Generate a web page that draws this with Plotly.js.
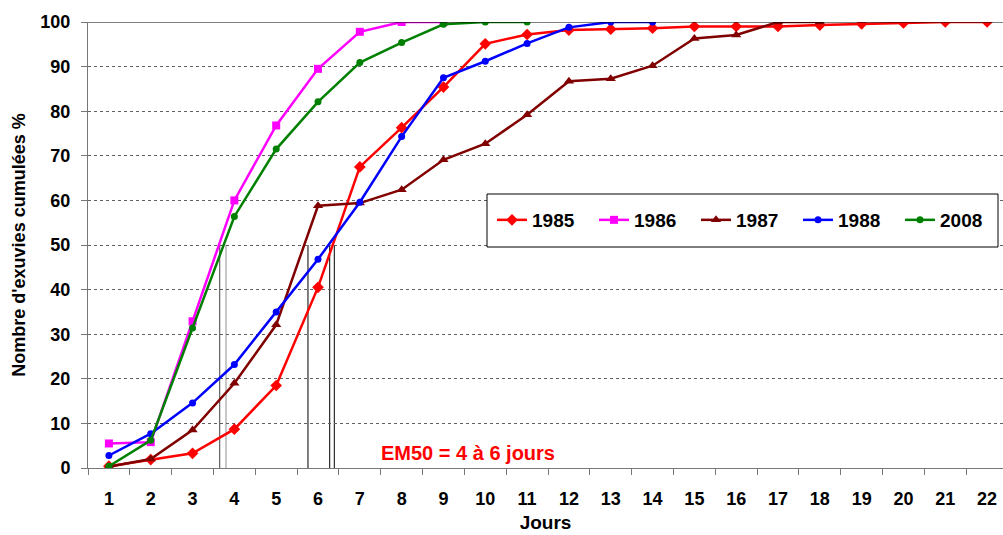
<!DOCTYPE html>
<html>
<head>
<meta charset="utf-8">
<script src="https://cdn.plot.ly/plotly-3.0.1.min.js"></script>
<style>html,body{margin:0;padding:0;background:#fff;}#chart{width:1003px;height:535px;}</style>
</head>
<body>
<div id="chart"></div>
<script>
// Days (Jours)
const days = [1,2,3,4,5,6,7,8,9,10,11,12,13,14,15,16,17,18,19,20,21,22];
// Cumulative exuviae (%) per year
const y1985 = [0.4, 1.9, 3.3, 8.7, 18.5, 40.5, 67.5, 76.3, 85.4, 95.1, 97.2, 98.2, 98.4, 98.6, 99.0, 99.0, 99.0, 99.3, 99.6, 99.8, 100, 100];
const y1986 = [5.5, 5.8, 32.9, 60.0, 76.8, 89.5, 97.8, 100, 100];
const y1987 = [0.3, 2.0, 8.5, 19.0, 32.1, 58.8, 59.4, 62.4, 69.1, 72.7, 79.2, 86.7, 87.3, 90.2, 96.3, 97.1, 100, 100];
const y1988 = [2.8, 7.7, 14.6, 23.2, 35.0, 46.8, 59.6, 74.3, 87.5, 91.2, 95.2, 98.8, 100, 100];
const y2008 = [0.4, 6.2, 31.4, 56.4, 71.5, 82.1, 90.9, 95.4, 99.5, 100, 100];
const seriesNames = ['1985', '1986', '1987', '1988', '2008'];
// EM50 reading lines (day where 50 % is reached)
const em50Days = [3.65, 3.80, 5.76, 6.28, 6.39];
const em50Level = 50;
const em50Label = 'EM50 = 4 à 6 jours';
const yTicks = [0,10,20,30,40,50,60,70,80,90,100];

const FONT = 'Arial, "Liberation Sans", sans-serif';
const styles = [
  {color:'#FF0000', symbol:'diamond', size:9},
  {color:'#FF00FF', symbol:'square', size:8},
  {color:'#800000', symbol:'triangle-up', size:9},
  {color:'#0000FF', symbol:'circle', size:7},
  {color:'#008000', symbol:'circle', size:7}
];
const allY = [y1985, y1986, y1987, y1988, y2008];
const traces = allY.map((ys, i) => ({
  type:'scatter', mode:'lines+markers',
  x: days.slice(0, ys.length), y: ys,
  name: seriesNames[i],
  line:{color:styles[i].color, width:2.5},
  marker:{color:styles[i].color, symbol:styles[i].symbol, size:styles[i].size}
}));

const emColors = ['#404040', '#909090', '#000000', '#000000', '#000000'];
const shapes = em50Days.map((d, i) => ({
  type:'line', xref:'x', yref:'y', x0:d, x1:d, y0:0, y1:em50Level,
  line:{color:emColors[i], width:1}, layer:'below'
}));
// top border of plot area
shapes.push({type:'line', xref:'paper', yref:'y', x0:0, x1:1, y0:100, y1:100, line:{color:'#000', width:1}, layer:'above'});
// legend box
shapes.push({type:'rect', xref:'paper', yref:'paper',
  x0:(487-88)/(1003-88), x1:(998-88)/(1003-88),
  y0:(468-247)/446, y1:(468-194)/446,
  line:{color:'#000', width:1}, fillcolor:'#fff', layer:'above'});

const layout = {
  width:1003, height:535,
  margin:{l:88, r:0, t:22, b:67},
  paper_bgcolor:'#fff', plot_bgcolor:'#fff',
  font:{family:FONT, color:'#000'},
  showlegend:true,
  legend:{orientation:'h', x:(492-88)/(1003-88), y:(468-220)/446, xanchor:'left', yanchor:'middle',
    bgcolor:'rgba(0,0,0,0)', borderwidth:0, font:{family:FONT, size:19, color:'#000', weight:'bold'},
    entrywidth:57, entrywidthmode:'pixels', itemwidth:30},
  xaxis:{
    type:'linear', range:[0.5, 22.38], fixedrange:true,
    tickmode:'array', tickvals:days, ticktext:days.map(String), ticks:'',
    tickfont:{family:FONT, size:18, weight:'bold', color:'#000'},
    ticklabelstandoff:14,
    showgrid:false, zeroline:false, showline:true, linecolor:'#777', linewidth:1,
    minor:{tickmode:'linear', tick0:0.5, dtick:1, ticks:'outside', ticklen:6, tickcolor:'#777', tickwidth:1, showgrid:false},
    title:{text:'Jours', font:{family:FONT, size:19, weight:'bold', color:'#000'}, standoff:8}
  },
  yaxis:{
    range:[0,100], fixedrange:true,
    tickmode:'array', tickvals:yTicks, ticks:'outside', ticklen:6, tickcolor:'#777',
    tickfont:{family:FONT, size:18, weight:'bold', color:'#000'},
    ticklabelstandoff:7,
    showgrid:true, gridcolor:'#606060', gridwidth:1, griddash:'3px,3px',
    zeroline:false, showline:true, linecolor:'#777', linewidth:1,
    title:{text:"Nombre d'exuvies cumulées %", font:{family:FONT, size:18, weight:'bold', color:'#000'}, standoff:10}
  },
  shapes: shapes,
  annotations:[{
    xref:'x', yref:'y', x:9.58, y:3.4, text:em50Label, showarrow:false,
    font:{family:FONT, size:20, weight:'bold', color:'#FF0000'}
  }]
};
Plotly.newPlot('chart', traces, layout, {displayModeBar:false, staticPlot:true});
</script>
</body>
</html>
